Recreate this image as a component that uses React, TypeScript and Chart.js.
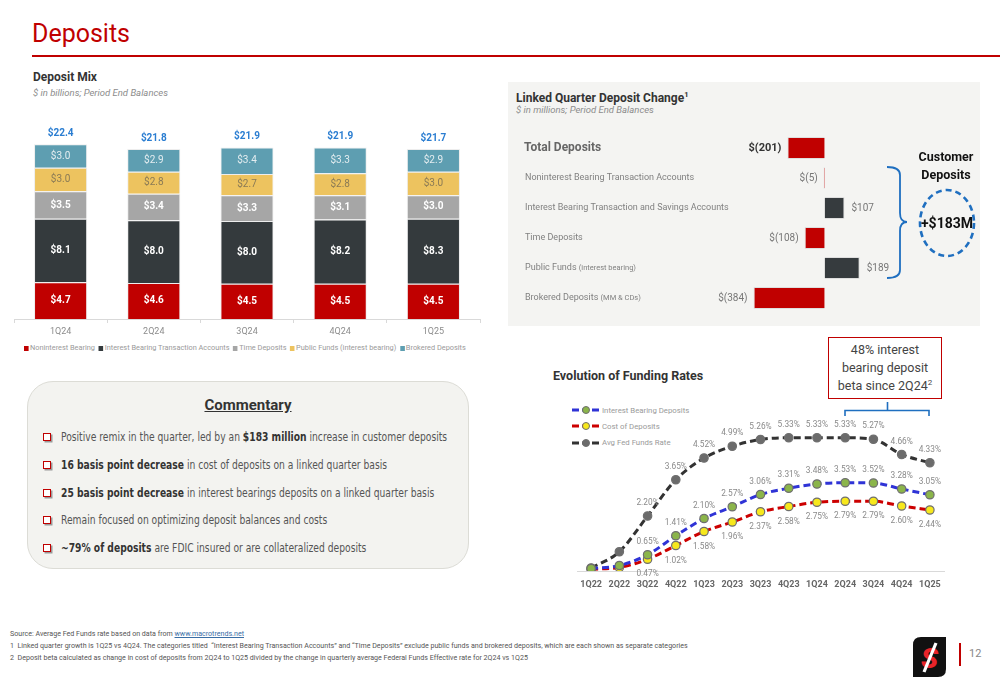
import React, { useEffect, useRef } from "react";
import { Chart, registerables } from "chart.js";

Chart.register(...registerables);

// ---------- Deposit Mix (stacked bars, $ billions) ----------
const mixQuarters = ["1Q24", "2Q24", "3Q24", "4Q24", "1Q25"];
const noninterestBearing = [4.7, 4.6, 4.5, 4.5, 4.5];
const interestBearingTransaction = [8.1, 8.0, 8.0, 8.2, 8.3];
const timeDeposits = [3.5, 3.4, 3.3, 3.1, 3.0];
const publicFunds = [3.0, 2.8, 2.7, 2.8, 3.0];
const brokeredDeposits = [3.0, 2.9, 3.4, 3.3, 2.9];
const mixTotals = [22.4, 21.8, 21.9, 21.9, 21.7];
const mixSeriesNames = [
  "Noninterest Bearing",
  "Interest Bearing Transaction Accounts",
  "Time Deposits",
  "Public Funds (interest bearing)",
  "Brokered Deposits",
];

// ---------- Linked Quarter Deposit Change ($ millions) ----------
const changeCategories = [
  "Total Deposits",
  "Noninterest Bearing Transaction Accounts",
  "Interest Bearing Transaction and Savings Accounts",
  "Time Deposits",
  "Public Funds",
  "Brokered Deposits",
];
const changeCategoryNotes = ["", "", "", "", "(interest bearing)", "(MM & CDs)"];
const changeValues = [-201, -5, 107, -108, 189, -384];

// ---------- Evolution of Funding Rates (%) ----------
const rateQuarters = ["1Q22", "2Q22", "3Q22", "4Q22", "1Q23", "2Q23", "3Q23", "4Q23", "1Q24", "2Q24", "3Q24", "4Q24", "1Q25"];
const interestBearingDepositsRate = [0.1, 0.22, 0.65, 1.41, 2.1, 2.57, 3.06, 3.31, 3.48, 3.53, 3.52, 3.28, 3.05];
const costOfDepositsRate = [0.07, 0.14, 0.47, 1.02, 1.58, 1.96, 2.37, 2.58, 2.75, 2.79, 2.79, 2.6, 2.44];
const avgFedFundsRate = [0.12, 0.77, 2.2, 3.65, 4.52, 4.99, 5.26, 5.33, 5.33, 5.33, 5.27, 4.66, 4.33];
const rateSeriesNames = ["Interest Bearing Deposits", "Cost of Deposits", "Avg Fed Funds Rate"];
const rateLabelStart = 2;

const SANS = "Roboto, 'Noto Sans', sans-serif";
const NARROW = "'Liberation Sans Narrow', 'DejaVu Sans Condensed', Roboto, sans-serif";

const mixColors = ["#c00000", "#343a3d", "#a6a6a6", "#edc35f", "#5e9eb1"];

function MixChart() {
  const ref = useRef<HTMLCanvasElement>(null);
  useEffect(() => {
    const series = [noninterestBearing, interestBearingTransaction, timeDeposits, publicFunds, brokeredDeposits];
    const labelColors = ["#ffffff", "#ffffff", "#ffffff", "#8a7a55", "#e4edf0"];
    const labelBold = [true, true, true, false, false];
    const plugin = {
      id: "mixLabels",
      afterDatasetsDraw(chart: any) {
        const ctx = chart.ctx;
        ctx.save();
        ctx.textAlign = "center";
        ctx.textBaseline = "middle";
        chart.data.datasets.forEach((ds: any, di: number) => {
          const meta = chart.getDatasetMeta(di);
          meta.data.forEach((el: any, i: number) => {
            const p = el.getProps(["x", "y", "base"], true);
            ctx.font = `${labelBold[di] ? "bold " : ""}10px ${SANS}`;
            ctx.fillStyle = labelColors[di];
            ctx.fillText("$" + (ds.data[i] as number).toFixed(1), p.x, (p.y + p.base) / 2);
          });
        });
        const topMeta = chart.getDatasetMeta(series.length - 1);
        ctx.font = `bold 10px ${SANS}`;
        ctx.fillStyle = "#2a7dd1";
        topMeta.data.forEach((el: any, i: number) => {
          ctx.fillText("$" + mixTotals[i].toFixed(1), el.x, el.y - 11);
        });
        ctx.restore();
      },
    };
    const chart = new Chart(ref.current as HTMLCanvasElement, {
      type: "bar",
      data: {
        labels: mixQuarters,
        datasets: series.map((d, i) => ({
          label: mixSeriesNames[i],
          data: d,
          backgroundColor: mixColors[i],
          borderColor: "rgba(235,235,235,0.9)",
          borderWidth: 1,
          barPercentage: 0.57,
          categoryPercentage: 1,
        })),
      },
      options: {
        animation: false,
        responsive: false,
        layout: { padding: { left: 4, right: 5, top: 11, bottom: 0 } },
        plugins: { legend: { display: false }, tooltip: { enabled: false } },
        scales: {
          x: {
            stacked: true,
            grid: { display: true, drawOnChartArea: false, offset: true, tickLength: 4, color: "#d9d9d9" },
            border: { display: true, color: "#d9d9d9" },
            ticks: { color: "#8c8c8c", font: { size: 9, family: SANS }, padding: 3 },
            afterFit: (s: any) => {
              s.height = 21;
            },
          },
          y: { stacked: true, display: false, min: 0, max: 24 },
        },
      },
      plugins: [plugin],
    } as any);
    return () => chart.destroy();
  }, []);
  return <canvas ref={ref} width={475} height={220} style={{ position: "absolute", left: 10, top: 120 }} />;
}

function ChangeChart() {
  const ref = useRef<HTMLCanvasElement>(null);
  useEffect(() => {
    const fmt = (v: number) => (v < 0 ? `$(${-v})` : `$${v}`);
    const plugin = {
      id: "changeLabels",
      afterDatasetsDraw(chart: any) {
        const ctx = chart.ctx;
        const yScale = chart.scales.y;
        const meta = chart.getDatasetMeta(0);
        ctx.save();
        ctx.textBaseline = "middle";
        changeCategories.forEach((name, i) => {
          const y = yScale.getPixelForValue(i);
          const x0 = chart.chartArea.left + 14;
          ctx.textAlign = "left";
          if (i === 0) {
            ctx.font = `bold 12px ${SANS}`;
            ctx.fillStyle = "#666666";
            ctx.fillText(name, x0, y);
          } else {
            ctx.font = `9px ${SANS}`;
            ctx.fillStyle = "#808080";
            ctx.fillText(name, x0 + 1, y);
            if (changeCategoryNotes[i]) {
              const w = ctx.measureText(name + " ").width;
              ctx.font = `7.5px ${SANS}`;
              ctx.fillText(changeCategoryNotes[i], x0 + 1 + w, y + 0.5);
            }
          }
          const el = meta.data[i];
          const v = changeValues[i];
          ctx.font = i === 0 ? `bold 11px ${SANS}` : `10px ${SANS}`;
          ctx.fillStyle = i === 0 ? "#333333" : "#777777";
          if (v < 0) {
            ctx.textAlign = "right";
            ctx.fillText(fmt(v), Math.min(el.x, el.base) - 6, y);
          } else {
            ctx.textAlign = "left";
            ctx.fillText(fmt(v), Math.max(el.x, el.base) + 7, y);
          }
        });
        ctx.restore();
      },
    };
    const chart = new Chart(ref.current as HTMLCanvasElement, {
      type: "bar",
      data: {
        labels: changeCategories,
        datasets: [
          {
            data: changeValues,
            backgroundColor: changeValues.map((v) => (v < 0 ? "#c00000" : "#363b3e")),
            borderColor: "rgba(220,220,220,0.9)",
            borderWidth: 1,
            barPercentage: 0.73,
            categoryPercentage: 1,
          },
        ],
      },
      options: {
        indexAxis: "y",
        animation: false,
        responsive: false,
        layout: { padding: 0 },
        plugins: { legend: { display: false }, tooltip: { enabled: false } },
        scales: {
          x: { display: false, min: -1700, max: 850 },
          y: { display: false },
        },
      },
      plugins: [plugin],
    } as any);
    return () => chart.destroy();
  }, []);
  return <canvas ref={ref} width={472} height={180} style={{ position: "absolute", left: 510, top: 133 }} />;
}

const rateColors = ["#2f33d6", "#cc0000", "#333333"];
const ratePointColors = ["#8bb54a", "#f7e81c", "#6b6b6b"];

function RateChart() {
  const ref = useRef<HTMLCanvasElement>(null);
  useEffect(() => {
    const series = [interestBearingDepositsRate, costOfDepositsRate, avgFedFundsRate];
    const below = [false, true, false];
    const plugin = {
      id: "rateLabels",
      afterDatasetsDraw(chart: any) {
        const ctx = chart.ctx;
        ctx.save();
        ctx.textAlign = "center";
        ctx.textBaseline = "middle";
        ctx.font = `8.3px ${SANS}`;
        ctx.fillStyle = "#8a8a8a";
        series.forEach((d, di) => {
          const meta = chart.getDatasetMeta(di);
          meta.data.forEach((el: any, i: number) => {
            if (i < rateLabelStart) return;
            ctx.fillText(d[i].toFixed(2) + "%", el.x, below[di] ? el.y + 15 : el.y - 13);
          });
        });
        ctx.restore();
      },
    };
    const chart = new Chart(ref.current as HTMLCanvasElement, {
      type: "line",
      data: {
        labels: rateQuarters,
        datasets: series.map((d, i) => ({
          label: rateSeriesNames[i],
          data: d,
          borderColor: rateColors[i],
          borderWidth: 3,
          borderDash: [7, 4],
          tension: 0.4,
          cubicInterpolationMode: "monotone",
          pointRadius: 4.2,
          pointBackgroundColor: ratePointColors[i],
          pointBorderColor: "#6f6f6f",
          pointBorderWidth: 1.2,
          fill: false,
        })),
      },
      options: {
        animation: false,
        responsive: false,
        layout: { padding: { left: 17, right: 16, top: 21, bottom: 0 } },
        plugins: { legend: { display: false }, tooltip: { enabled: false } },
        scales: {
          x: {
            offset: true,
            grid: { display: false },
            border: { display: true, color: "#d9d9d9" },
            ticks: { color: "#666666", font: { size: 9, weight: "bold", family: SANS }, padding: 0, autoSkip: false, maxRotation: 0 },
            afterFit: (s: any) => {
              s.height = 24;
            },
          },
          y: { display: false, min: 0, max: 6 },
        },
      },
      plugins: [plugin],
    } as any);
    return () => chart.destroy();
  }, []);
  return <canvas ref={ref} width={400} height={195} style={{ position: "absolute", left: 560, top: 400 }} />;
}

const abs = (l: number, t: number, extra: React.CSSProperties = {}): React.CSSProperties => ({
  position: "absolute",
  left: l,
  top: t,
  whiteSpace: "nowrap",
  ...extra,
});

const bulletItems: { b: boolean; t: string }[][] = [
  [
    { b: false, t: "Positive remix in the quarter, led by an " },
    { b: true, t: "$183 million" },
    { b: false, t: " increase in customer deposits" },
  ],
  [
    { b: true, t: "16 basis point decrease" },
    { b: false, t: " in cost of deposits on a linked quarter basis" },
  ],
  [
    { b: true, t: "25 basis point decrease" },
    { b: false, t: " in interest bearings deposits on a linked quarter basis" },
  ],
  [{ b: false, t: "Remain focused on optimizing deposit balances and costs" }],
  [
    { b: true, t: "~79% of deposits" },
    { b: false, t: " are FDIC insured or are collateralized deposits" },
  ],
];

export default function App() {
  return (
    <div
      style={{
        position: "absolute",
        left: 0,
        top: 0,
        width: 1000,
        height: 685,
        overflow: "hidden",
        background: "#ffffff",
        fontFamily: SANS,
      }}
    >
      {/* Header */}
      <div style={abs(32, 17, { fontSize: 25, color: "#c00000", lineHeight: "34px" })}>Deposits</div>
      <div style={{ position: "absolute", left: 32, top: 55, width: 968, height: 1.5, background: "#c00000" }} />

      {/* Deposit Mix */}
      <div style={abs(33, 69, { fontSize: 12, fontWeight: 700, color: "#333", lineHeight: "16px" })}>Deposit Mix</div>
      <div style={abs(33, 87, { fontSize: 9.5, fontStyle: "italic", color: "#8c8c8c", lineHeight: "12px" })}>
        $ in billions; Period End Balances
      </div>
      <MixChart />
      <div
        style={abs(24, 342, {
          fontSize: 8,
          color: "#9a9a9a",
          lineHeight: "12px",
          display: "flex",
          alignItems: "center",
          transform: "scaleX(0.92)",
          transformOrigin: "left center",
        })}
      >
        {mixSeriesNames.map((n, i) => (
          <span key={n} style={{ display: "inline-flex", alignItems: "center", marginRight: 4 }}>
            <span style={{ display: "inline-block", width: 5, height: 5, background: mixColors[i], marginRight: 1.5 }} />
            {n}
          </span>
        ))}
      </div>

      {/* Linked Quarter panel */}
      <div style={{ position: "absolute", left: 508, top: 82, width: 472, height: 244, background: "#f4f4f2" }} />
      <div style={abs(516, 87, { fontSize: 12, fontWeight: 700, color: "#333", lineHeight: "16px" })}>
        Linked Quarter Deposit Change<sup style={{ fontSize: 7.5 }}>1</sup>
      </div>
      <div style={abs(516, 104, { fontSize: 9.5, fontStyle: "italic", color: "#8c8c8c", lineHeight: "12px" })}>
        $ in millions; Period End Balances
      </div>
      <ChangeChart />
      <svg style={{ position: "absolute", left: 880, top: 140, overflow: "visible" }} width={110} height={150}>
        <path
          d="M 887 167 Q 900 167 900 175 L 900 213 Q 900 222 907 222 Q 900 222 900 231 L 900 270 Q 900 278 887 278"
          transform="translate(-880,-140)"
          fill="none"
          stroke="#1f6fc0"
          strokeWidth={1.8}
        />
        <ellipse cx={67} cy={83} rx={27} ry={33} fill="none" stroke="#1f6fc0" strokeWidth={2.6} strokeDasharray="6 4" />
      </svg>
      <div style={abs(905, 148, { width: 82, textAlign: "center", fontSize: 12.5, fontWeight: 700, color: "#111", lineHeight: "18px" })}>
        Customer
        <br />
        Deposits
      </div>
      <div style={abs(917, 214, { width: 60, textAlign: "center", fontSize: 14, fontWeight: 700, color: "#111", lineHeight: "18px" })}>
        +$183M
      </div>

      {/* Commentary */}
      <div
        style={{
          position: "absolute",
          left: 27,
          top: 381,
          width: 440,
          height: 186,
          borderRadius: 26,
          background: "#f3f3f0",
          border: "1px solid #dcdcd6",
        }}
      />
      <div style={abs(27, 396, { width: 442, textAlign: "center", fontSize: 15, fontWeight: 700, color: "#333", textDecoration: "underline", lineHeight: "18px" })}>
        Commentary
      </div>
      {bulletItems.map((parts, i) => (
        <React.Fragment key={i}>
          <div
            style={{
              position: "absolute",
              left: 43,
              top: 433 + i * 27.8,
              width: 6,
              height: 6,
              border: "1.3px solid #c00000",
              boxShadow: "1.5px 1.5px 0 #999",
              background: "#fff",
            }}
          />
          <div
            style={abs(61, 429 + i * 27.8, {
              fontSize: 12,
              color: "#555",
              lineHeight: "16px",
              fontFamily: NARROW,
              transform: "scaleX(0.85)",
              transformOrigin: "left center",
            })}
          >
            {parts.map((p, j) => (
              <span key={j} style={p.b ? { fontWeight: 700, color: "#333" } : {}}>
                {p.t}
              </span>
            ))}
          </div>
        </React.Fragment>
      ))}

      {/* Funding rates */}
      <div style={abs(553, 368, { fontSize: 12.5, fontWeight: 700, color: "#333", lineHeight: "16px" })}>
        Evolution of Funding Rates
      </div>
      {rateSeriesNames.map((n, i) => (
        <div key={n} style={abs(571, 404 + i * 16.3, { display: "flex", alignItems: "center", height: 12 })}>
          <svg width={30} height={12}>
            <line x1={1} y1={6} x2={29} y2={6} stroke={rateColors[i]} strokeWidth={3} strokeDasharray="7 3" />
            <circle cx={15} cy={6} r={3.5} fill={ratePointColors[i]} stroke="#6f6f6f" strokeWidth={1} />
          </svg>
          <span style={{ fontSize: 7.8, color: "#9a9a9a", marginLeft: 1 }}>{n}</span>
        </div>
      ))}
      <RateChart />
      <div
        style={{
          position: "absolute",
          left: 828,
          top: 337,
          width: 114,
          height: 62,
          border: "1.8px solid #c00000",
          background: "#fff",
          textAlign: "center",
          fontSize: 12.5,
          color: "#444",
          lineHeight: "18px",
          paddingTop: 3,
          boxSizing: "border-box",
        }}
      >
        48% interest
        <br />
        bearing deposit
        <br />
        beta since 2Q24<sup style={{ fontSize: 8, lineHeight: 0 }}>2</sup>
      </div>
      <svg style={{ position: "absolute", left: 840, top: 400 }} width={100} height={20}>
        <path d="M 5 16 L 5 10.5 L 89 10.5 L 89 16 M 47.5 10.5 L 47.5 2" fill="none" stroke="#1f6fc0" strokeWidth={1.6} />
      </svg>

      {/* Footnotes */}
      <div style={abs(10, 628, { fontSize: 7.1, color: "#555", lineHeight: "12px" })}>
        Source: Average Fed Funds rate based on data from{" "}
        <span style={{ color: "#3a6ea5", textDecoration: "underline" }}>www.macrotrends.net</span>
      </div>
      <div style={abs(10, 640, { fontSize: 7.1, color: "#555", lineHeight: "12px" })}>
        1&nbsp;&nbsp;Linked quarter growth is 1Q25 vs 4Q24. The categories titled &nbsp;“Interest Bearing Transaction Accounts” and “Time Deposits” exclude public funds and brokered deposits, which are each shown as separate categories
      </div>
      <div style={abs(10, 652, { fontSize: 7.1, color: "#555", lineHeight: "12px" })}>
        2&nbsp;&nbsp;Deposit beta calculated as change in cost of deposits from 2Q24 to 1Q25 divided by the change in quarterly average Federal Funds Effective rate for 2Q24 vs 1Q25
      </div>

      {/* Logo and page number */}
      <svg style={{ position: "absolute", left: 912, top: 636 }} width={36} height={42}>
        <path d="M 9 1 L 34 1 L 34 33 Q 34 41 26 41 L 1 41 L 1 9 Q 1 1 9 1 Z" fill="#111" />
        <text x={17.5} y={32} textAnchor="middle" fontFamily={SANS} fontWeight={900} fontStyle="italic" fontSize={28} fill="#e8242a">
          S
        </text>
        <line x1={12} y1={36} x2={24} y2={7} stroke="#fff" strokeWidth={3.2} />
      </svg>
      <div style={{ position: "absolute", left: 959, top: 643, width: 1.5, height: 23, background: "#c00000" }} />
      <div style={abs(969, 647, { fontSize: 11, color: "#888", lineHeight: "14px" })}>12</div>
    </div>
  );
}
